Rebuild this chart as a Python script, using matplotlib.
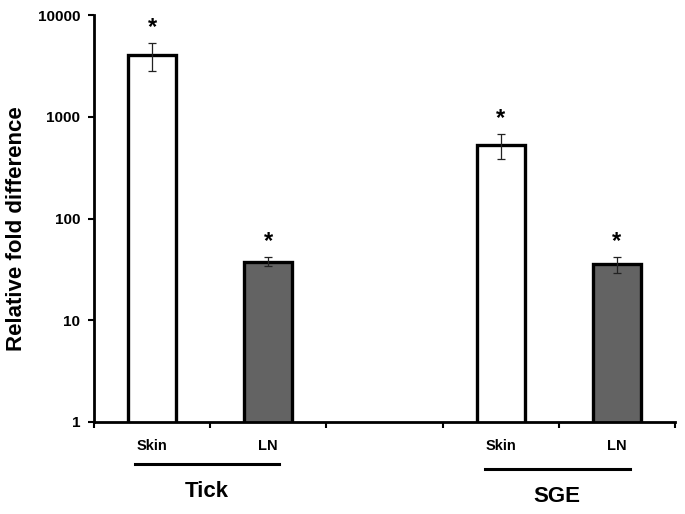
import matplotlib
matplotlib.use("Agg")
import matplotlib.pyplot as plt
from matplotlib.ticker import FixedLocator, NullLocator

plt.rcParams["font.family"] = ["Liberation Sans", "DejaVu Sans"]

# data
samples = ["Skin", "LN", "Skin", "LN"]
groups = ["Tick", "SGE"]
positions = [0, 1, 3, 4]
fold = [4050, 37.4, 528, 35.7]
err_lower = [1235, 3.3, 144, 6.6]
err_upper = [1260, 4.5, 149, 6.2]
fills = ["white", "#636363", "white", "#636363"]

fig = plt.figure(figsize=(6.85, 5.14), dpi=100)
ax = fig.add_axes([0.1372, 0.179, 0.8482, 0.7918])

ax.bar(positions, fold, width=0.41, color=fills, edgecolor="black",
       linewidth=2.4, zorder=2)
ax.errorbar(positions, fold, yerr=[err_lower, err_upper], fmt="none",
            ecolor="#222222", elinewidth=0.9, capsize=3, capthick=0.9, zorder=3)
for x, v, e in zip(positions, fold, err_upper):
    ax.annotate("*", xy=(x, v + e), xytext=(0, 3), textcoords="offset points",
                ha="center", va="bottom", fontsize=17, fontweight="bold")

ax.set_yscale("log")
ax.set_ylim(1, 10000)
ax.set_xlim(-0.5, 4.5)
ax.yaxis.set_major_locator(FixedLocator([1, 10, 100, 1000, 10000]))
ax.yaxis.set_minor_locator(NullLocator())
ax.set_yticklabels(["1", "10", "100", "1000", "10000"])
ax.tick_params(axis="y", direction="out", length=4.5, width=1.5, pad=5.5,
               labelsize=11)
for lab in ax.get_yticklabels():
    lab.set_fontweight("bold")

ax.set_xticks(positions)
ax.set_xticklabels(samples, fontsize=10.5, fontweight="bold")
ax.tick_params(axis="x", which="major", length=0, pad=12)
ax.xaxis.set_minor_locator(FixedLocator([-0.5, 0.5, 1.5, 2.5, 3.5, 4.5]))
ax.tick_params(axis="x", which="minor", direction="out", length=4.5, width=1.5)

for side in ("top", "right"):
    ax.spines[side].set_visible(False)
for side in ("left", "bottom"):
    ax.spines[side].set_linewidth(2)

ax.set_ylabel("Relative fold difference", fontsize=16, fontweight="bold",
              va="center")
ax.yaxis.set_label_coords(-0.133, 0.474)

# group brackets under the sample labels
trans = ax.get_xaxis_transform()
group_spans = [(positions[0] - 0.15, positions[1] + 0.09),
               (positions[2] - 0.135, positions[3] + 0.11)]
line_y = [-0.103, -0.115]
text_y = [-0.172, -0.184]
for name, (x0, x1), ly, ty in zip(groups, group_spans, line_y, text_y):
    ax.plot([x0, x1], [ly, ly], color="black", linewidth=2.2,
            transform=trans, clip_on=False)
    ax.text((x0 + x1) / 2, ty, name, transform=trans, ha="center",
            va="center", fontsize=16, fontweight="bold")

fig.savefig("out.png", dpi=100, facecolor="white")
